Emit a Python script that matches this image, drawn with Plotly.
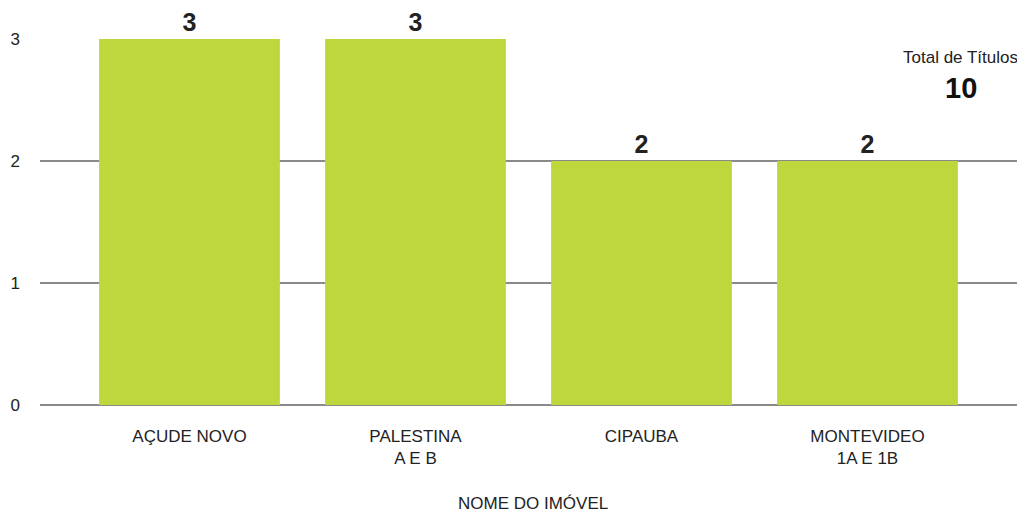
import plotly.graph_objects as go

categories = ["AÇUDE NOVO", "PALESTINA<br>A E B", "CIPAUBA", "MONTEVIDEO<br>1A E 1B"]
values = [3, 3, 2, 2]
y_ticks = [0, 1, 2, 3]
x_title = "NOME DO IMÓVEL"
total_label = "Total de Títulos"
total_value = sum(values)

FONT = "Liberation Sans, Arial, Helvetica, sans-serif"

fig = go.Figure(go.Bar(
    x=categories,
    y=values,
    marker=dict(color="#BDD73C", line=dict(width=0)),
    text=[str(v) for v in values],
    textposition="outside",
    textfont=dict(family=FONT, size=25, color="#222222", weight="bold"),
    cliponaxis=False,
    hoverinfo="skip",
))

fig.update_layout(
    width=1017, height=505,
    margin=dict(l=32, r=0, t=31, b=108),
    plot_bgcolor="white", paper_bgcolor="white",
    bargap=0.2,
    showlegend=False,
    font=dict(family=FONT, size=17, color="#222222"),
    xaxis=dict(
        range=[-0.6615, 3.697],
        automargin=False,
        showgrid=False, zeroline=False, showline=False,
        tickfont=dict(size=17, color="#222222"),
        ticks="", ticklabelstandoff=19,
    ),
    yaxis=dict(
        range=[0, 3],
        tickvals=y_ticks,
        automargin=False,
        showgrid=True, gridcolor="#8a8a8a", gridwidth=1.5,
        zeroline=True, zerolinecolor="#8a8a8a", zerolinewidth=1.5,
        showline=False, ticks="",
        tickfont=dict(size=17, color="#222222"),
        ticklabelstandoff=19,
    ),
    annotations=[
        dict(text=x_title, xref="paper", yref="paper", x=0.5, y=0.0, yshift=-98,
             xanchor="center", yanchor="middle", showarrow=False, borderpad=0,
             font=dict(size=17, color="#222222")),
        dict(text=total_label, xref="paper", yref="paper", x=1.0, y=1.0, xshift=-5, yshift=-18,
             xanchor="right", yanchor="middle", showarrow=False,
             font=dict(size=17, color="#222222")),
        dict(text=f"<b>{total_value}</b>", xref="paper", yref="paper", x=0.935, y=1.0, yshift=-49,
             xanchor="center", yanchor="middle", showarrow=False,
             font=dict(size=29, color="#111111")),
    ],
)

fig.write_html("out.html")
